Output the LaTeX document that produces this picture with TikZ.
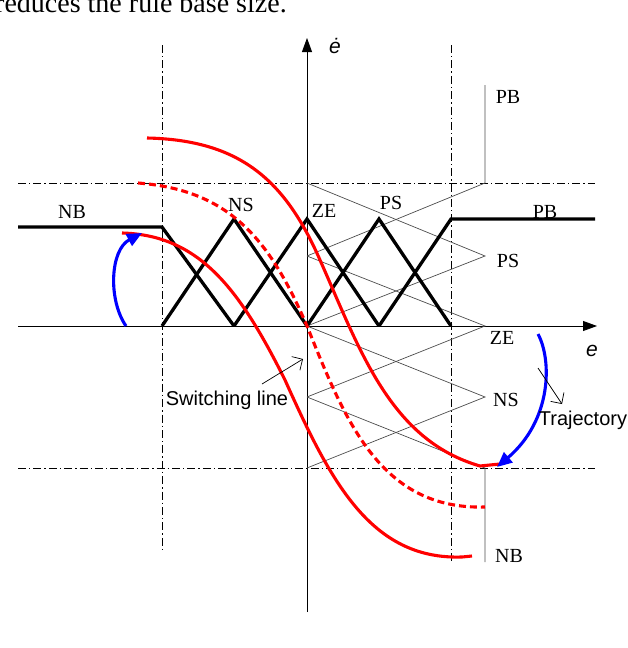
\documentclass[tikz,border=0pt]{standalone}
\usepackage{fontspec}
\setmainfont{Liberation Serif}
\setsansfont{Liberation Sans}
\usetikzlibrary{arrows.meta}
\begin{document}
\begin{tikzpicture}[x=1pt,y=-1pt,
  lab/.style={font=\fontsize{20}{20}\selectfont,inner sep=1pt},
  slab/.style={font=\sffamily\fontsize{20}{20}\selectfont,inner sep=1pt},
  mf/.style={line width=3.3pt,line join=miter},
  thin mf/.style={line width=0.7pt,gray!60!black},
  dd/.style={line width=0.8pt,dash pattern=on 8pt off 3pt on 1.4pt off 3pt},
  rc/.style={red,line width=3.1pt},
  bc/.style={blue,line width=3.1pt,-{Triangle[length=15pt,width=13pt]}}]
\useasboundingbox (0,0) rectangle (628,648);
\clip (0,0) rectangle (628,648);
\node[anchor=base west,font=\fontsize{28}{28}\selectfont,inner sep=0pt] (top) at (-5,12) {reduces the rule base size.};
% dash-dot guides
\draw[dd] (18,183) -- (595,183);
\draw[dd] (18,468) -- (595,468);
\draw[dd] (162,45) -- (162,552);
\draw[dd] (451,45) -- (451,562);
% axes
\draw[line width=0.8pt,-{Triangle[length=14pt,width=10pt]}] (18,326) -- (597,326);
\draw[line width=0.8pt,-{Triangle[length=14pt,width=10pt]}] (307,612) -- (307,38);
\node[font=\sffamily\itshape\fontsize{21}{21}\selectfont,inner sep=0pt] (edot) at (335,46) {\.{e}};
\node[font=\sffamily\itshape\fontsize{21}{21}\selectfont,inner sep=0pt] (e) at (592,351) {e};
% thin vertical membership functions
\draw[thin mf] (307,256) -- (485,183) -- (485,85);
\draw[thin mf] (307,183) -- (485,256) -- (307,326);
\draw[thin mf] (307,256) -- (485,326) -- (307,397);
\draw[thin mf] (307,326) -- (485,397) -- (307,468);
\draw[thin mf] (307,397) -- (485,468) -- (485,562);
% thick horizontal membership functions
\draw[mf] (18,227) -- (162,227) -- (234,326);
\draw[mf] (162,326) -- (234,219) -- (307,326);
\draw[mf] (234,326) -- (307,219) -- (379,326);
\draw[mf] (307,326) -- (379,219) -- (451,326);
\draw[mf] (379,326) -- (451,219) -- (595,219);
% labels
\node[lab] (nb) at (72,212) {NB};
\node[lab] (ns) at (241,205) {NS};
\node[lab] (ze) at (324,211) {ZE};
\node[lab] (ps) at (391,203) {PS};
\node[lab] (pb) at (545,212) {PB};
\node[lab] (pbv) at (508,97) {PB};
\node[lab] (psv) at (508,261) {PS};
\node[lab] (zev) at (502,338) {ZE};
\node[lab] (nsv) at (506,400) {NS};
\node[lab] (nbv) at (509,556) {NB};
% red trajectories
\draw[rc] (147,138) .. controls (240,140) and (285,180) .. (320,260)
  .. controls (360,350) and (390,440) .. (480,466) -- (500,464);
\draw[rc,dash pattern=on 7pt off 4pt] (138,183) .. controls (230,190) and (270,240) .. (307,326)
  .. controls (345,420) and (380,510) .. (485,507);
\draw[rc] (122,233) .. controls (200,235) and (240,290) .. (285,380)
  .. controls (330,480) and (370,560) .. (462,557) -- (472,556);
% blue arrows
\coordinate (b1s) at (126,326);
\coordinate (b1e) at (142,233);
\draw[bc] (b1s) .. controls (108,300) and (110,250) .. (b1e);
\coordinate (b2s) at (538,334);
\coordinate (b2e) at (497,467);
\draw[bc] (b2s) .. controls (552,360) and (552,420) .. (b2e);
% annotations
\node[slab] (sw) at (227,400) {Switching line};
\coordinate (swt) at (303,359);
\draw[-{Straight Barb[length=8pt]},line width=0.7pt] (262,384) -- (swt);
\node[slab] (tr) at (583,420) {Trajectory};
\coordinate (trs) at (538,368);
\draw[-{Straight Barb[length=8pt]},line width=0.7pt] (trs) -- (562,404);
\end{tikzpicture}
\end{document}
